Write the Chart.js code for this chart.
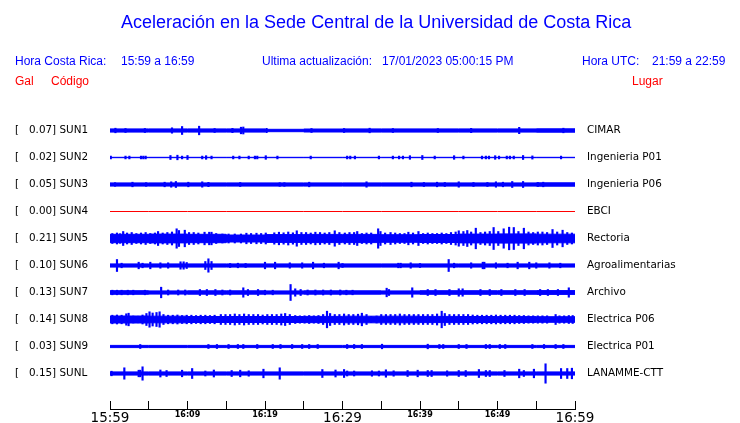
<!DOCTYPE html>
<html>
<head>
<meta charset="utf-8">
<script src="https://cdn.jsdelivr.net/npm/chart.js@4.4.1/dist/chart.umd.min.js"></script>
<style>
  body { margin:0; background:#fff; width:740px; height:423px; overflow:hidden; position:relative;
         font-family:'Liberation Sans', Arial, sans-serif; }
  #chart { position:absolute; left:0; top:0; }
  .t { position:absolute; white-space:nowrap; line-height:1; font-size:12px; }
  .blue { color:#0000ff; }
  .red  { color:#ff0000; }
  #title { left:121px; top:13px; font-size:18px; color:#0000ff; }
</style>
</head>
<body>
<canvas id="chart" width="740" height="423"></canvas>
<div class="t" id="title">Aceleración en la Sede Central de la Universidad de Costa Rica</div>
<div class="t blue" style="left:15px;top:55px">Hora Costa Rica:</div>
<div class="t blue" style="left:121px;top:55px">15:59 a 16:59</div>
<div class="t blue" style="left:262px;top:55px">Ultima actualización:</div>
<div class="t blue" style="left:382px;top:55px">17/01/2023 05:00:15 PM</div>
<div class="t blue" style="left:582px;top:55px">Hora UTC:</div>
<div class="t blue" style="left:652px;top:55px">21:59 a 22:59</div>
<div class="t red" style="left:15px;top:75px">Gal</div>
<div class="t red" style="left:51px;top:75px">Código</div>
<div class="t red" style="left:632px;top:75px">Lugar</div>
<script>
/* ── DATA ── */
const CODES  = ['SUN1', 'SUN2', 'SUN3', 'SUN4', 'SUN5', 'SUN6', 'SUN7', 'SUN8', 'SUN9', 'SUNL'];
const PEAKS  = [0.07, 0.02, 0.05, 0.00, 0.21, 0.10, 0.13, 0.14, 0.03, 0.15];
const PLACES = ['CIMAR', 'Ingenieria P01', 'Ingenieria P06', 'EBCI', 'Rectoria',
                'Agroalimentarias', 'Archivo', 'Electrica P06', 'Electrica P01', 'LANAMME-CTT'];
const TICK_LABELS = ['15:59', '16:09', '16:19', '16:29', '16:39', '16:49', '16:59'];
const SEGMENT_MINUTES = [0, 5, 10, 15, 20, 25, 30, 35, 40, 45, 50, 55, 60];

// trace amplitudes (half height, counts), one row = 27 counts
const COUNTS_PER_ROW = 27;

// background level per 5 minute segment
const SUN1_BASE = [1.6, 1.6, 1.6, 1.6, 1.2, 1.5, 1.6, 1.6, 1.6, 1.6, 1.6, 1.7];
const SUN2_BASE = [0.2, 0.2, 0.2, 0.2, 0.2, 0.2, 0.2, 0.2, 0.2, 0.2, 0.2, 0.2];
const SUN3_BASE = [1.6, 1.6, 1.6, 1.6, 1.6, 1.6, 1.6, 1.6, 1.6, 1.6, 1.6, 1.7];
const SUN4_BASE = [0, 0, 0, 0, 0, 0, 0, 0, 0, 0, 0, 0];
const SUN5_BASE = [4.2, 4.4, 4.2, 3.5, 3.9, 4.1, 4.1, 3.8, 4.0, 4.4, 4.6, 4.3];
const SUN6_BASE = [1.6, 1.6, 1.6, 1.6, 1.6, 1.6, 1.6, 1.6, 1.6, 1.6, 1.6, 1.6];
const SUN7_BASE = [1.8, 1.6, 1.7, 1.7, 1.6, 1.7, 1.7, 1.6, 1.8, 1.8, 1.8, 1.9];
const SUN8_BASE = [3.5, 3.3, 3.0, 3.0, 3.0, 3.1, 3.3, 3.3, 3.1, 3.0, 2.9, 2.8];
const SUN9_BASE = [1.1, 1.1, 1.1, 1.1, 1.1, 1.1, 1.1, 1.1, 1.1, 1.1, 1.1, 1.1];
const SUNL_BASE = [1.6, 1.6, 1.6, 1.6, 1.6, 1.6, 1.6, 1.6, 1.6, 1.6, 1.6, 1.6];

// bursts: [minute, half height]
const SUN1_SPIKES = [[0.7,2.3],[2.0,2.0],[4.5,2.0],[8.0,2.7],[9.3,4.0],[11.5,4.3],[13.5,2.0],[15.8,2.2],
  [16.9,3.3],[17.2,3.5],[20.2,2.2],[26.0,2.0],[30.2,2.0],[33.5,2.3],[36.5,2.0],[42.3,2.0],[46.6,2.2],
  [52.8,3.2],[58.5,2.3]];
const SUN2_SPIKES = [[0.1,1.4],[2.0,1.4],[2.5,1.4],[4.0,1.4],[4.3,1.4],[4.6,1.4],[7.8,2.0],[8.7,2.3],
  [9.3,1.4],[10.0,2.0],[11.9,1.4],[12.4,1.8],[13.1,1.4],[15.9,1.4],[16.7,1.4],[17.9,1.4],[18.7,1.4],
  [19.0,1.4],[20.1,1.8],[21.6,1.4],[25.9,1.4],[30.6,1.4],[31.0,1.4],[31.6,1.4],[34.7,1.4],[36.5,1.4],
  [37.3,1.4],[37.8,1.4],[38.7,1.8],[40.3,2.0],[41.9,1.4],[44.4,1.8],[45.6,1.4],[48.0,1.4],[48.5,1.4],
  [48.9,1.4],[49.7,1.8],[50.2,1.4],[51.2,1.4],[51.6,1.4],[52.1,1.4],[53.3,2.0],[54.5,1.6],[58.2,1.4]];
const SUN3_SPIKES = [[0.65,1.8],[2.9,2.3],[4.65,1.8],[7.05,2.3],[7.9,2.7],[8.5,3.0],[10.1,2.3],[11.9,2.7],
  [12.7,2.2],[16.8,2.0],[21.9,1.8],[22.5,1.8],[25.7,2.3],[33.1,2.7],[38.9,2.3],[40.5,2.0],[42.2,2.3],
  [43.2,2.0],[45.0,2.7],[46.9,2.0],[48.7,2.0],[49.8,2.7],[50.7,2.3],[51.9,3.0],[53.3,3.0],[55.2,2.0],
  [55.9,2.3]];
const SUN4_SPIKES = [];
const SUN5_SPIKES = [[0.3,5.0],[0.9,5.5],[1.3,4.8],[1.7,7.0],[2.2,5.5],[2.8,6.0],[3.4,5.0],[4.0,5.5],
  [4.6,6.0],[5.2,5.0],[5.8,5.5],[6.2,7.0],[6.8,5.5],[7.4,6.0],[8.0,6.5],[8.6,9.7],[8.9,8.0],[9.65,8.3],
  [10.2,6.0],[10.8,6.0],[11.4,5.5],[12.2,6.3],[12.8,6.3],[13.1,6.3],[13.7,5.0],[14.5,4.5],[15.3,4.5],
  [16.1,4.5],[16.9,4.5],[17.6,5.3],[18.2,5.0],[18.9,5.3],[19.5,5.0],[20.1,5.5],[21.2,5.7],[21.8,6.3],
  [22.4,5.7],[23.0,6.5],[23.6,5.7],[24.1,7.7],[24.7,6.0],[25.3,6.0],[25.9,5.5],[26.5,6.3],[27.1,6.0],
  [27.7,5.5],[28.3,6.0],[29.0,7.7],[29.6,6.0],[30.3,5.5],[30.9,6.0],[31.5,6.0],[31.9,7.0],[32.5,5.0],
  [33.1,5.5],[33.7,5.5],[34.6,9.7],[34.9,7.0],[35.5,5.5],[36.2,6.0],[36.8,5.5],[37.4,5.0],[38.0,5.0],
  [38.5,6.3],[39.1,5.5],[39.8,7.0],[40.4,5.0],[41.0,5.5],[41.6,5.0],[42.2,5.0],[42.8,5.5],[43.4,5.0],
  [44.0,6.0],[44.6,6.5],[45.0,7.7],[45.6,7.0],[46.1,8.0],[46.6,6.5],[47.2,10.3],[47.8,6.0],[48.4,6.5],
  [49.0,7.0],[49.5,11.0],[50.1,7.0],[50.8,9.7],[51.5,11.3],[52.1,11.0],[52.7,7.0],[53.4,10.3],[54.0,6.5],
  [54.6,6.0],[55.2,6.5],[55.8,6.5],[56.4,6.0],[57.1,9.0],[57.7,6.5],[58.4,8.3],[59.0,6.0],[59.6,5.5]];
const SUN6_SPIKES = [[0.9,6.0],[1.5,2.3],[3.7,3.3],[4.2,2.3],[5.2,3.3],[6.5,2.7],[7.5,2.7],[9.1,3.7],
  [9.5,3.7],[9.9,3.0],[12.3,4.0],[12.7,6.7],[13.1,4.0],[15.5,2.0],[16.5,2.3],[17.5,2.0],[20.0,3.3],
  [21.3,3.3],[23.2,2.7],[24.8,2.7],[26.2,3.3],[27.6,2.3],[29.5,3.3],[30.0,2.0],[37.2,2.3],[37.5,2.3],
  [38.8,2.7],[40.0,2.0],[43.7,6.0],[44.4,2.3],[46.6,2.7],[48.1,3.3],[48.3,3.3],[49.8,2.7],[51.3,2.3],
  [52.6,3.3],[54.1,3.3],[55.0,2.7],[56.7,2.7],[58.1,2.3]];
const SUN7_SPIKES = [[0.3,2.3],[0.9,2.3],[1.5,2.3],[2.3,2.3],[3.0,2.3],[4.5,2.3],[6.6,5.3],[7.5,2.5],
  [8.8,2.5],[9.7,2.5],[11.6,3.0],[12.5,3.0],[13.6,3.0],[14.5,2.5],[15.5,2.5],[17.2,4.7],[17.8,3.0],
  [19.1,3.0],[20.0,2.3],[21.0,2.3],[23.3,8.0],[23.9,3.7],[24.6,3.0],[25.5,2.5],[26.5,2.5],[27.5,2.5],
  [28.5,2.5],[29.7,2.5],[30.5,2.3],[31.3,2.3],[35.7,4.3],[36.0,3.0],[39.0,4.7],[41.0,3.0],[42.0,3.0],
  [43.8,3.0],[45.0,3.7],[45.5,3.7],[47.8,3.0],[49.0,3.0],[50.5,3.0],[52.3,3.0],[53.5,3.0],[55.5,3.0],
  [56.5,3.0],[57.8,3.0],[59.2,4.7]];
const SUN8_SPIKES = [[0.3,4.3],[0.9,4.5],[1.5,4.3],[2.1,5.7],[2.4,6.3],[3.0,3.5],[3.6,3.3],[4.2,4.5],
  [4.7,6.0],[5.1,7.7],[5.5,6.5],[6.0,7.0],[6.4,7.7],[6.9,5.0],[7.5,4.3],[8.1,4.3],[8.7,4.5],[9.3,4.0],
  [9.9,4.3],[10.5,4.3],[11.1,4.0],[11.7,4.3],[12.3,4.3],[12.9,4.0],[13.5,4.3],[14.3,5.0],[14.9,5.0],
  [15.5,5.0],[16.1,5.5],[16.7,5.0],[17.3,5.5],[17.9,5.0],[18.5,5.0],[19.1,5.0],[19.7,4.5],[20.3,5.0],
  [20.9,5.0],[21.5,5.0],[22.1,5.5],[22.6,6.0],[23.2,5.0],[23.9,4.0],[24.5,3.7],[25.1,3.7],[25.7,4.0],
  [26.3,3.7],[26.9,4.0],[27.5,5.0],[28.0,8.3],[28.4,6.0],[29.0,5.0],[29.6,5.0],[30.2,5.5],[30.8,5.0],
  [31.4,5.0],[32.0,5.3],[32.5,6.3],[33.1,5.0],[33.7,3.0],[34.4,3.5],[35.0,5.0],[35.6,5.0],[36.2,5.0],
  [36.8,5.0],[37.4,5.5],[38.0,5.0],[38.6,5.0],[39.2,5.0],[39.8,5.0],[40.4,5.0],[41.0,5.0],[41.6,5.0],
  [42.2,5.5],[42.8,8.3],[43.2,6.0],[43.8,5.0],[44.4,5.0],[45.0,5.0],[45.6,5.0],[46.2,5.0],[46.8,4.5],
  [47.4,4.3],[48.0,4.3],[48.6,4.3],[49.2,4.3],[49.8,4.5],[50.4,4.3],[51.0,4.3],[51.6,4.3],[52.2,4.3],
  [52.8,4.0],[53.4,4.0],[54.0,3.7],[54.6,3.7],[55.2,3.7],[55.8,3.7],[56.4,3.7],[57.5,5.0],[58.0,3.7],
  [58.6,3.7],[59.2,4.0],[59.7,4.0]];
const SUN9_SPIKES = [[3.9,2.0],[12.7,2.0],[13.8,2.0],[15.3,2.0],[16.5,2.0],[17.2,2.0],[19.0,2.0],[21.0,2.0],
  [22.0,2.0],[23.5,2.0],[24.8,2.0],[25.7,2.0],[26.8,2.0],[30.6,2.0],[31.5,2.0],[32.5,2.0],[35.1,2.3],
  [41.0,2.3],[42.5,2.0],[43.0,2.0],[45.0,2.0],[46.0,2.0],[48.5,2.0],[49.0,2.0],[50.3,2.0],[51.0,2.0],
  [54.5,2.0],[56.0,2.0],[57.5,2.0],[58.5,2.0]];
const SUNL_SPIKES = [[0.2,2.3],[1.85,5.7],[3.7,3.3],[3.9,3.3],[4.2,6.7],[6.5,3.5],[7.3,3.0],[9.3,3.3],
  [10.6,5.0],[12.3,2.5],[13.4,3.5],[15.7,3.0],[16.8,3.3],[17.9,2.7],[19.8,4.3],[21.9,5.7],[27.4,4.0],
  [29.1,3.5],[30.2,4.0],[30.6,2.5],[31.5,2.5],[33.8,2.7],[34.7,2.5],[35.6,3.7],[36.6,2.7],[38.4,3.0],
  [39.7,3.3],[41.0,3.0],[41.5,3.0],[43.5,2.7],[45.0,3.0],[45.9,3.0],[47.6,4.0],[48.5,3.0],[49.0,3.0],
  [50.9,3.0],[52.8,4.3],[53.4,3.0],[54.7,4.3],[56.2,9.7],[58.2,5.0],[59.0,5.0],[59.6,5.3]];

const BASES  = [SUN1_BASE, SUN2_BASE, SUN3_BASE, SUN4_BASE, SUN5_BASE,
                SUN6_BASE, SUN7_BASE, SUN8_BASE, SUN9_BASE, SUNL_BASE];
const SPIKES = [SUN1_SPIKES, SUN2_SPIKES, SUN3_SPIKES, SUN4_SPIKES, SUN5_SPIKES,
                SUN6_SPIKES, SUN7_SPIKES, SUN8_SPIKES, SUN9_SPIKES, SUNL_SPIKES];

const BLUE = '#0000ff';
const RED  = '#ff0000';

/* ── DATASETS ── */
const datasets = [];
CODES.forEach((code, row) => {
  const base  = BASES[row];
  const color = PEAKS[row] > 0 ? BLUE : RED;
  const edge  = sign => SEGMENT_MINUTES.map((m, k) => ({
    x: m, y: row + sign * base[Math.min(k, base.length - 1)] / COUNTS_PER_ROW
  }));

  if (PEAKS[row] === 0) {
    datasets.push({ type: 'line', data: edge(0), borderColor: color, borderWidth: 1,
                    pointRadius: 0, fill: false });
    return;
  }
  datasets.push({ type: 'line', data: edge(-1), borderColor: color, backgroundColor: color,
                  borderWidth: 1, pointRadius: 0, stepped: true, fill: '+1' });
  datasets.push({ type: 'line', data: edge(1), borderColor: color, borderWidth: 1,
                  pointRadius: 0, stepped: true, fill: false });
  datasets.push({
    type: 'bar',
    data: SPIKES[row].map(([m, a]) => ({ x: m, y: [row - a / COUNTS_PER_ROW, row + a / COUNTS_PER_ROW] })),
    backgroundColor: color, borderWidth: 0, barThickness: 1.5, grouped: false
  });
});

/* ── PLUGIN: x axis base line under the tick marks ── */
const axisLine = {
  id: 'axisLine',
  afterDraw(chart) {
    const xs = chart.scales.x, ctx = chart.ctx;
    const y = xs.top + 8.5;
    ctx.save();
    ctx.strokeStyle = '#000';
    ctx.lineWidth = 1;
    ctx.beginPath();
    ctx.moveTo(xs.left, y);
    ctx.lineTo(xs.right + 1, y);
    ctx.stroke();
    ctx.restore();
  }
};

const rowTicks = scale => { scale.ticks = CODES.map((c, i) => ({ value: i })); };
const ROW_MIN = -0.5, ROW_MAX = 10.0185;

Chart.defaults.font.family = "'DejaVu Sans'";
Chart.defaults.color = '#000';

new Chart(document.getElementById('chart'), {
  type: 'bar',
  data: { datasets },
  plugins: [axisLine],
  options: {
    responsive: false, animation: false, devicePixelRatio: 1,
    layout: { padding: { left: 15, top: 117, right: 0, bottom: 0 } },
    plugins: { legend: { display: false }, tooltip: { enabled: false } },
    scales: {
      x: {
        type: 'linear', min: 0, max: 60, offset: false,
        afterFit: s => { s.height = 22; },
        border: { display: false },
        grid: { drawOnChartArea: false, drawTicks: true, tickLength: 8, color: '#000', lineWidth: 1, offset: false },
        ticks: {
          stepSize: 5, autoSkip: false, maxRotation: 0, padding: 1, color: '#000',
          callback: v => (v % 10 === 0 ? TICK_LABELS[v / 10] : ''),
          font: ctx => (ctx.tick && ctx.tick.value % 30 === 0)
            ? { family: "'DejaVu Sans'", size: 13.5 }
            : { family: "'DejaVu Sans'", size: 8, weight: 'bold' }
        }
      },
      y: {
        type: 'linear', position: 'left', reverse: true, min: ROW_MIN, max: ROW_MAX,
        afterBuildTicks: rowTicks,
        afterFit: s => { s.width = 95; },
        border: { display: false },
        grid: { display: false, drawTicks: false },
        ticks: {
          crossAlign: 'far', autoSkip: false, padding: 0, color: '#000',
          font: { size: 10.4 },
          callback: (v, i) => `[   ${PEAKS[i].toFixed(2)}] ${CODES[i]}`
        }
      },
      y2: {
        type: 'linear', position: 'right', reverse: true, min: ROW_MIN, max: ROW_MAX,
        afterBuildTicks: rowTicks,
        afterFit: s => { s.width = 165; },
        border: { display: false },
        grid: { display: false, drawTicks: false },
        ticks: {
          autoSkip: false, padding: 12, color: '#000',
          font: { size: 10.4 },
          callback: (v, i) => PLACES[i]
        }
      }
    }
  }
});
</script>
</body>
</html>
